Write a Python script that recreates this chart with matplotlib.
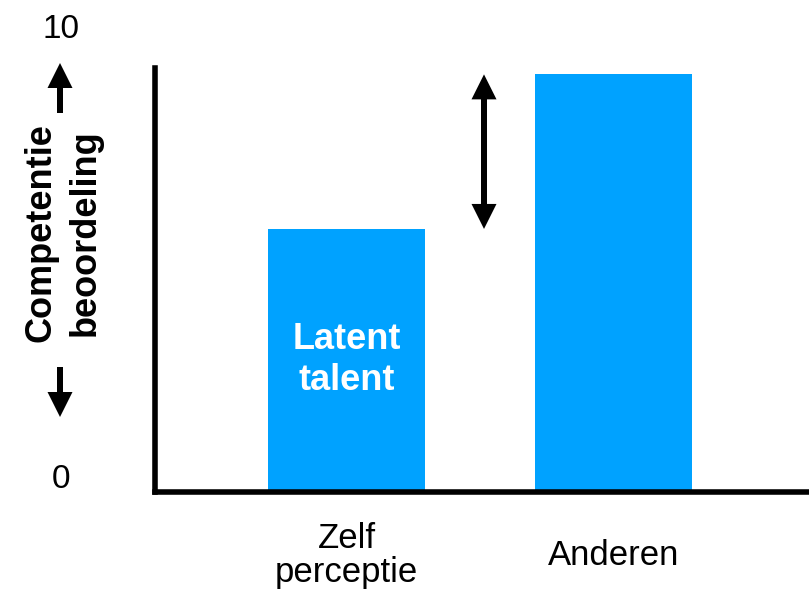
import matplotlib
matplotlib.use("Agg")
import matplotlib.pyplot as plt

# data
categories = ["Zelf\nperceptie", "Anderen"]
scores = [6.2, 9.85]
y_tick_labels = ["0", "10"]
bar_text = "Latent\ntalent"
y_title = "Competentie\nbeoordeling"

blue = "#00A2FF"
plt.rcParams['font.family'] = ['Liberation Sans', 'DejaVu Sans']

fig = plt.figure(figsize=(8.09, 6.03), dpi=100)
ax = fig.add_axes([0.1916, 0.1849, 0.8084, 0.7023])

x = list(range(len(categories)))
ax.bar(x, scores, width=0.588, color=blue, zorder=1)
ax.set_xlim(-0.717, 1.732)
ax.set_ylim(0, 10)

ax.spines[['top', 'right']].set_visible(False)
for s in ['left', 'bottom']:
    ax.spines[s].set_linewidth(4)
    ax.spines[s].set_color('black')
ax.set_yticks([])
ax.set_xticks(x, categories, fontsize=25, linespacing=1.05)
ax.tick_params(axis='x', length=0, pad=46)
for lbl in ax.get_xticklabels():
    lbl.set_verticalalignment('center')

# text inside the first bar
ax.text(x[0], scores[0] / 2, bar_text, color='white', fontsize=26,
        fontweight='bold', ha='center', va='center', linespacing=1.22)

# double arrow between the two bars (two halves that overlap in the middle)
px_x = 267.0   # pixels per x unit
px_y = 42.35   # pixels per y unit
mid = (scores[0] + scores[1]) / 2
for start, end in ((mid - 0.4, scores[1]), (mid + 0.4, scores[0])):
    ax.arrow(0.515, start, 0, end - start, width=6 / px_x, head_width=25 / px_x,
             head_length=25 / px_y, length_includes_head=True,
             color='black', lw=0, zorder=3)

# overlay in pixel coords for the left-hand annotations
ov = fig.add_axes([0, 0, 1, 1], facecolor='none')
ov.set_xlim(0, 809)
ov.set_ylim(603, 0)
ov.axis('off')

ov.arrow(60, 113, 0, -50, width=6, head_width=25, head_length=25,
         length_includes_head=True, color='black', lw=0)
ov.arrow(60, 367, 0, 50, width=6, head_width=25, head_length=25,
         length_includes_head=True, color='black', lw=0)

ov.text(61, 480, y_tick_labels[0], fontsize=24, ha='center', va='center')
ov.text(61, 30, y_tick_labels[1], fontsize=24, ha='center', va='center')

ov.text(63, 233, y_title, rotation=90, fontsize=26, fontweight='bold',
        ha='center', va='center', multialignment='center', linespacing=1.35)

fig.savefig("out.png", dpi=100)
